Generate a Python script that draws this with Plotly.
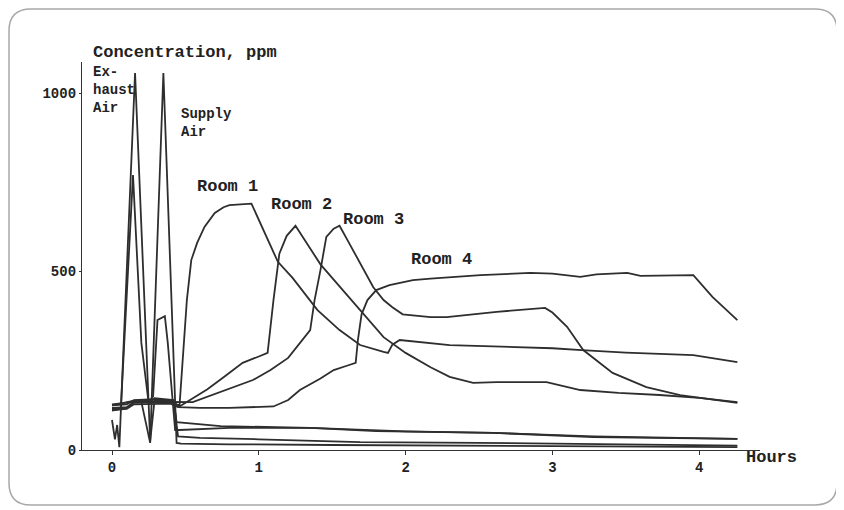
import plotly.graph_objects as go

# ---------------- data (hours, ppm) ----------------
room1_t = [0.00, 0.10, 0.15, 0.25, 0.40, 0.44, 0.46, 0.48, 0.51, 0.54, 0.58, 0.63, 0.70, 0.76, 0.80, 0.95,
           1.13, 1.23, 1.40, 1.55, 1.69, 1.85, 1.88, 1.91, 1.96, 2.30, 2.60, 3.00, 3.20, 3.50, 3.96, 4.26]
room1_v = [125, 128, 140, 142, 140, 128, 125, 252, 420, 532, 580, 625, 664, 680, 686, 690,
           527, 482, 392, 336, 294, 275, 272, 295, 308, 294, 290, 285, 280, 273, 266, 246]

room2_t = [0.00, 0.10, 0.15, 0.40, 0.46, 0.53, 0.65, 0.76, 0.89, 1.00, 1.06, 1.10, 1.14, 1.19, 1.25,
           1.42, 1.62, 1.85, 2.00, 2.17, 2.30, 2.46, 2.62, 2.96, 3.19, 3.45, 3.73, 4.00, 4.26]
room2_v = [118, 120, 135, 135, 122, 140, 170, 204, 244, 262, 272, 420, 550, 600, 628,
           520, 425, 316, 272, 232, 205, 188, 190, 190, 168, 160, 154, 146, 134]

room3_t = [0.00, 0.10, 0.15, 0.40, 0.55, 0.78, 0.96, 1.08, 1.20, 1.35, 1.38, 1.42, 1.46, 1.51, 1.55,
           1.62, 1.70, 1.78, 1.85, 1.91, 1.98, 2.17, 2.28, 2.62, 2.95, 3.00, 3.10, 3.21, 3.41, 3.64, 3.87, 4.26]
room3_v = [115, 118, 132, 135, 134, 168, 196, 224, 258, 336, 420, 504, 597, 620, 628,
           576, 516, 456, 420, 400, 380, 372, 372, 387, 398, 385, 345, 280, 216, 176, 154, 132]

room4_t = [0.00, 0.10, 0.15, 0.40, 0.45, 0.60, 0.80, 1.00, 1.10, 1.20, 1.28, 1.42, 1.51, 1.60, 1.66,
           1.675, 1.70, 1.74, 1.80, 1.89, 2.05, 2.17, 2.51, 2.85, 3.00, 3.19, 3.30, 3.51, 3.60, 3.96, 4.09, 4.26]
room4_v = [112, 115, 128, 130, 120, 118, 118, 120, 122, 140, 168, 200, 224, 236, 244,
           308, 380, 420, 448, 462, 476, 480, 490, 496, 494, 485, 492, 496, 488, 490, 429, 364]

exhaust1_t = [0.00, 0.02, 0.035, 0.05, 0.157, 0.26, 0.29, 0.42, 0.45, 0.60, 1.00, 1.69, 2.50, 3.20, 3.87, 4.26]
exhaust1_v = [84, 30, 70, 8, 1056, 25, 140, 138, 38, 34, 30, 22, 20, 17, 14, 12]

exhaust2_t = [0.00, 0.06, 0.143, 0.20, 0.25, 0.29, 0.42, 0.44, 0.74, 1.35, 1.80, 2.60, 3.28, 3.87, 4.26]
exhaust2_v = [110, 115, 770, 300, 130, 145, 140, 78, 67, 62, 53, 48, 36, 34, 31]

supply1_t = [0.00, 0.15, 0.20, 0.26, 0.35, 0.44, 0.47, 0.80, 1.50, 2.50, 3.20, 3.87, 4.26]
supply1_v = [128, 135, 135, 20, 1056, 20, 18, 16, 14, 12, 10, 8, 8]

supply2_t = [0.00, 0.15, 0.26, 0.28, 0.31, 0.36, 0.38, 0.43, 0.46, 0.80, 1.35, 2.00, 2.60, 3.28, 3.87, 4.26]
supply2_v = [125, 138, 140, 150, 364, 375, 300, 56, 56, 62, 62, 52, 48, 38, 34, 31]

x_ticks = [0, 1, 2, 3, 4]
x_tick_labels = ["0", "1", "2", "3", "4"]
y_ticks = [0, 500, 1000]
y_tick_labels = ["0", "500", "1000"]

# ---------------- figure ----------------
OFF = 8                      # default page margin of the html body
W, H = 844 - OFF, 510 - OFF
# plot area, in page pixels
L, R, T, B = 82, 760, 62, 450

def pxx(x):
    return (x - L) / (R - L)

def pxy(y):
    return (B - y) / (B - T)

LINE = "#2e2e2e"
FONT = "Liberation Mono, Courier New, monospace"

fig = go.Figure()
series = [
    (room1_t, room1_v), (room2_t, room2_v), (room3_t, room3_v), (room4_t, room4_v),
    (exhaust1_t, exhaust1_v), (exhaust2_t, exhaust2_v),
    (supply1_t, supply1_v), (supply2_t, supply2_v),
]
for t, v in series:
    fig.add_trace(go.Scatter(x=t, y=v, mode="lines",
                             line=dict(color=LINE, width=1.8),
                             showlegend=False, hoverinfo="skip"))

def label(text, xpix, ypix, size=17, anchor="middle"):
    fig.add_annotation(text=text, xref="paper", yref="paper",
                       x=pxx(xpix), y=pxy(ypix), xanchor="left", yanchor=anchor,
                       align="left", showarrow=False,
                       font=dict(family=FONT, size=size, color="#222", weight="bold"))

label("Concentration, ppm", 91, 52)
label("Ex-<br>haust<br>Air", 91, 90, size=14)
label("Supply<br>Air", 179, 123, size=14)
label("Room 1", 195, 186)
label("Room 2", 269, 204)
label("Room 3", 341, 219)
label("Room 4", 409, 259)
label("Hours", 744, 457)

# rounded border around the picture
x0, x1, y0, y1, rr = OFF + 1, 837, OFF + 1, 505, 22
def P(x, y):
    return f"{pxx(x):.5f},{pxy(y):.5f}"
path = (f"M {P(x0 + rr, y0)} L {P(x1 - rr, y0)} Q {P(x1, y0)} {P(x1, y0 + rr)} "
        f"L {P(x1, y1 - rr)} Q {P(x1, y1)} {P(x1 - rr, y1)} "
        f"L {P(x0 + rr, y1)} Q {P(x0, y1)} {P(x0, y1 - rr)} "
        f"L {P(x0, y0 + rr)} Q {P(x0, y0)} {P(x0 + rr, y0)} Z")
fig.add_shape(type="path", path=path, xref="paper", yref="paper",
              line=dict(color="#a8a8a8", width=1.5), layer="below")

fig.update_layout(
    width=W, height=H,
    margin=dict(l=L - OFF, r=844 - R, t=T - OFF, b=510 - B),
    paper_bgcolor="white", plot_bgcolor="white",
    showlegend=False,
    font=dict(family=FONT, color="#222"),
    xaxis=dict(range=[(L - 112) / 146.8, (R - 112) / 146.8],
               tickmode="array", tickvals=x_ticks, ticktext=x_tick_labels,
               showgrid=False, zeroline=False, showline=True, linecolor="#333", linewidth=1.3,
               ticks="outside", ticklen=4, tickcolor="#333",
               tickfont=dict(family=FONT, size=14, color="#222", weight="bold")),
    yaxis=dict(range=[0, (B - T) / 0.357],
               tickmode="array", tickvals=y_ticks, ticktext=y_tick_labels,
               showgrid=False, zeroline=False, showline=True, linecolor="#333", linewidth=1.3,
               ticks="outside", ticklen=2, tickcolor="#333",
               tickfont=dict(family=FONT, size=14, color="#222", weight="bold")),
)

fig.write_html("out.html")
